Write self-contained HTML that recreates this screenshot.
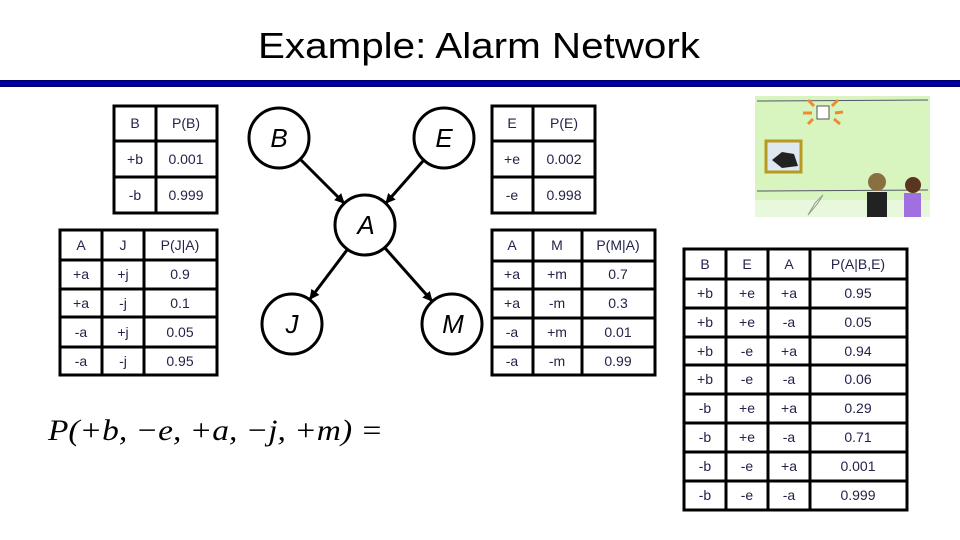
<!DOCTYPE html>
<html><head><meta charset="utf-8"><style>
html,body{margin:0;padding:0;background:#fff;}
svg{display:block;}
.t{font-family:"Liberation Sans",sans-serif;font-size:14px;fill:#23234a;text-anchor:middle;}
.n{font-family:"Liberation Sans",sans-serif;font-size:26px;font-style:italic;fill:#000;text-anchor:middle;}
</style></head><body>
<svg width="960" height="540" viewBox="0 0 960 540" xmlns="http://www.w3.org/2000/svg">
<defs>
<linearGradient id="bar" x1="0" y1="0" x2="0" y2="1">
<stop offset="0" stop-color="#000060"/><stop offset="0.5" stop-color="#0000c0"/><stop offset="1" stop-color="#000060"/>
</linearGradient>
<marker id="ar" markerWidth="10" markerHeight="10" refX="9" refY="5" orient="auto" markerUnits="userSpaceOnUse">
<path d="M0,0 L10,5 L0,10 z" fill="#000"/></marker>
</defs>
<text x="479" y="58" font-family="Liberation Sans,sans-serif" font-size="36" text-anchor="middle" textLength="442" lengthAdjust="spacingAndGlyphs" fill="#000">Example: Alarm Network</text>
<rect x="0" y="80" width="960" height="7" fill="url(#bar)"/>

<g stroke="#000" stroke-width="3" fill="none">
<!-- P(B) -->
<rect x="114" y="106" width="103" height="107"/>
<line x1="156" y1="106" x2="156" y2="213"/><line x1="114" y1="141" x2="217" y2="141"/><line x1="114" y1="177" x2="217" y2="177"/>
<!-- P(J|A) -->
<rect x="60" y="230" width="157" height="145"/>
<line x1="102" y1="230" x2="102" y2="375"/><line x1="144" y1="230" x2="144" y2="375"/>
<line x1="60" y1="260" x2="217" y2="260"/><line x1="60" y1="289" x2="217" y2="289"/><line x1="60" y1="317" x2="217" y2="317"/><line x1="60" y1="347" x2="217" y2="347"/>
<!-- P(E) -->
<rect x="492" y="106" width="103" height="107"/>
<line x1="533" y1="106" x2="533" y2="213"/><line x1="492" y1="141" x2="595" y2="141"/><line x1="492" y1="177" x2="595" y2="177"/>
<!-- P(M|A) -->
<rect x="492" y="230" width="163" height="145"/>
<line x1="533" y1="230" x2="533" y2="375"/><line x1="582" y1="230" x2="582" y2="375"/>
<line x1="492" y1="261" x2="655" y2="261"/><line x1="492" y1="289" x2="655" y2="289"/><line x1="492" y1="318" x2="655" y2="318"/><line x1="492" y1="347" x2="655" y2="347"/>
<!-- P(A|B,E) -->
<rect x="684" y="249" width="223" height="261"/>
<line x1="726" y1="249" x2="726" y2="510"/><line x1="768" y1="249" x2="768" y2="510"/><line x1="810" y1="249" x2="810" y2="510"/>
<line x1="684" y1="279" x2="907" y2="279"/><line x1="684" y1="308" x2="907" y2="308"/><line x1="684" y1="337" x2="907" y2="337"/><line x1="684" y1="365" x2="907" y2="365"/><line x1="684" y1="394" x2="907" y2="394"/><line x1="684" y1="423" x2="907" y2="423"/><line x1="684" y1="452" x2="907" y2="452"/><line x1="684" y1="481" x2="907" y2="481"/>
<!-- nodes -->
<circle cx="279" cy="138" r="30"/><circle cx="444" cy="138" r="30"/><circle cx="365" cy="225" r="30"/><circle cx="292" cy="324" r="30"/><circle cx="452" cy="324" r="30"/>
<line x1="301" y1="160" x2="344" y2="203" marker-end="url(#ar)"/>
<line x1="423" y1="161" x2="386" y2="203" marker-end="url(#ar)"/>
<line x1="347" y1="250" x2="310" y2="299" marker-end="url(#ar)"/>
<line x1="385" y1="248" x2="432" y2="301" marker-end="url(#ar)"/>
</g>
<text class="n" x="279" y="147">B</text><text class="n" x="444" y="147">E</text><text class="n" x="366" y="234">A</text><text class="n" x="292" y="333">J</text><text class="n" x="453" y="333">M</text>

<g class="t">
<text x="135" y="128">B</text><text x="186" y="128">P(B)</text>
<text x="135" y="164">+b</text><text x="186" y="164">0.001</text>
<text x="135" y="200">-b</text><text x="186" y="200">0.999</text>

<text x="81" y="250">A</text><text x="123" y="250">J</text><text x="180" y="250">P(J|A)</text>
<text x="81" y="279">+a</text><text x="123" y="279">+j</text><text x="180" y="279">0.9</text>
<text x="81" y="308">+a</text><text x="123" y="308">-j</text><text x="180" y="308">0.1</text>
<text x="81" y="337">-a</text><text x="123" y="337">+j</text><text x="180" y="337">0.05</text>
<text x="81" y="366">-a</text><text x="123" y="366">-j</text><text x="180" y="366">0.95</text>

<text x="512" y="128">E</text><text x="564" y="128">P(E)</text>
<text x="512" y="164">+e</text><text x="564" y="164">0.002</text>
<text x="512" y="200">-e</text><text x="564" y="200">0.998</text>

<text x="512" y="250">A</text><text x="557" y="250">M</text><text x="618" y="250">P(M|A)</text>
<text x="512" y="279">+a</text><text x="557" y="279">+m</text><text x="618" y="279">0.7</text>
<text x="512" y="308">+a</text><text x="557" y="308">-m</text><text x="618" y="308">0.3</text>
<text x="512" y="337">-a</text><text x="557" y="337">+m</text><text x="618" y="337">0.01</text>
<text x="512" y="366">-a</text><text x="557" y="366">-m</text><text x="618" y="366">0.99</text>

<text x="705" y="269">B</text><text x="747" y="269">E</text><text x="789" y="269">A</text><text x="858" y="269">P(A|B,E)</text>
<text x="705" y="298">+b</text><text x="747" y="298">+e</text><text x="789" y="298">+a</text><text x="858" y="298">0.95</text>
<text x="705" y="327">+b</text><text x="747" y="327">+e</text><text x="789" y="327">-a</text><text x="858" y="327">0.05</text>
<text x="705" y="356">+b</text><text x="747" y="356">-e</text><text x="789" y="356">+a</text><text x="858" y="356">0.94</text>
<text x="705" y="384">+b</text><text x="747" y="384">-e</text><text x="789" y="384">-a</text><text x="858" y="384">0.06</text>
<text x="705" y="413">-b</text><text x="747" y="413">+e</text><text x="789" y="413">+a</text><text x="858" y="413">0.29</text>
<text x="705" y="442">-b</text><text x="747" y="442">+e</text><text x="789" y="442">-a</text><text x="858" y="442">0.71</text>
<text x="705" y="471">-b</text><text x="747" y="471">-e</text><text x="789" y="471">+a</text><text x="858" y="471">0.001</text>
<text x="705" y="500">-b</text><text x="747" y="500">-e</text><text x="789" y="500">-a</text><text x="858" y="500">0.999</text>
</g>

<text x="48" y="440" font-family="Liberation Serif,serif" font-size="30" font-style="italic" textLength="335" lengthAdjust="spacingAndGlyphs" fill="#000">P(+b, −e, +a, −j, +m) =</text>

<!-- illustration -->
<g>
<rect x="755" y="96" width="175" height="120" fill="#d8f5c0"/>
<rect x="755" y="200" width="175" height="17" fill="#e8f8dc"/>
<line x1="757" y1="101" x2="928" y2="100" stroke="#556" stroke-width="1"/>
<line x1="757" y1="191" x2="928" y2="190" stroke="#556" stroke-width="1"/>
<rect x="817" y="106" width="12" height="13" fill="#fff" stroke="#555"/>
<g stroke="#f08a30" stroke-width="3"><line x1="808" y1="100" x2="814" y2="106"/><line x1="838" y1="100" x2="832" y2="106"/><line x1="803" y1="113" x2="812" y2="113"/><line x1="835" y1="113" x2="843" y2="112"/><line x1="808" y1="124" x2="813" y2="119"/><line x1="834" y1="119" x2="840" y2="124"/></g>
<rect x="766" y="141" width="35" height="31" fill="#dde8f0" stroke="#b89a20" stroke-width="3"/>
<path d="M772 160 l10 -8 l12 2 l4 12 l-16 2z" fill="#222"/>
<path d="M808 215 l10 -12 l5 -8 l-8 8z" stroke="#999" fill="none"/>
<circle cx="877" cy="182" r="9" fill="#8a7040"/>
<rect x="867" y="192" width="20" height="25" fill="#222"/>
<circle cx="913" cy="185" r="8" fill="#5a3520"/>
<rect x="904" y="193" width="17" height="24" fill="#a070e0"/>
</g>
</svg>
</body></html>
